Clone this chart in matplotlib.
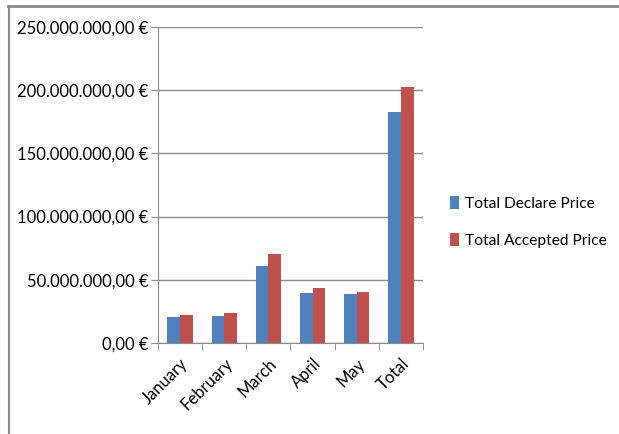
import matplotlib
matplotlib.use("Agg")
import matplotlib.pyplot as plt
import numpy as np
from matplotlib.lines import Line2D
from matplotlib.ticker import FuncFormatter, FixedLocator

months = ["January", "February", "March", "April", "May", "Total"]
declare = [20.7e6, 21.7e6, 61.2e6, 39.2e6, 38.4e6, 182.4e6]
accepted = [22.3e6, 23.9e6, 70.5e6, 43.7e6, 40.6e6, 202.3e6]
series_names = ["Total Declare Price", "Total Accepted Price"]
colors = ["#4F81BD", "#C0504D"]

plt.rcParams['font.family'] = ['Lato', 'DejaVu Sans']

W, H = 619, 434
fig = plt.figure(figsize=(W/100, H/100), dpi=100)
ax = fig.add_axes([158/W, 1-343/H, (423-158)/W, (343-27)/H])

x = np.arange(len(months))
bw = 0.285
b1 = ax.bar(x - bw/2, declare, bw, color=colors[0], label=series_names[0])
b2 = ax.bar(x + bw/2, accepted, bw, color=colors[1], label=series_names[1])

ax.set_xlim(-0.5, len(months) - 0.5)
ax.set_ylim(0, 250e6)
ax.set_yticks(np.arange(0, 250e6 + 1, 50e6))

def fmt(v, pos):
    s = f"{v:,.2f}".replace(",", "X").replace(".", ",").replace("X", ".")
    return s + " €"
ax.yaxis.set_major_formatter(FuncFormatter(fmt))
ax.yaxis.grid(True, color="#8C8C8C", linewidth=1)
ax.set_axisbelow(True)

ax.set_xticks(x)
ax.set_xticklabels(months, rotation=45, ha="right", rotation_mode="anchor", fontsize=12)
ax.tick_params(axis="x", length=0, pad=9)
ax.xaxis.set_minor_locator(FixedLocator(np.arange(-0.5, len(months), 1)))
ax.tick_params(axis="x", which="minor", length=5, color="#8C8C8C")
ax.tick_params(axis="y", length=5, color="#8C8C8C", labelsize=12, pad=2)

for s in ["top", "right"]:
    ax.spines[s].set_visible(False)
for s in ["left", "bottom"]:
    ax.spines[s].set_color("#8C8C8C")

leg = fig.legend(handles=[b1, b2], labels=series_names, loc="center left",
                 bbox_to_anchor=(436/W, 1-222/H), frameon=False, fontsize=11.2,
                 handlelength=0.6, handleheight=0.9, handletextpad=0.35, labelspacing=1.4)

fig.add_artist(Line2D([8/W, 1], [1-5.5/H, 1-5.5/H], transform=fig.transFigure,
                      color="#8C8C8C", linewidth=2))
fig.add_artist(Line2D([8.5/W, 8.5/W], [0, 1-5.5/H], transform=fig.transFigure,
                      color="#8C8C8C", linewidth=1.5))

fig.savefig("out.png", dpi=100)
